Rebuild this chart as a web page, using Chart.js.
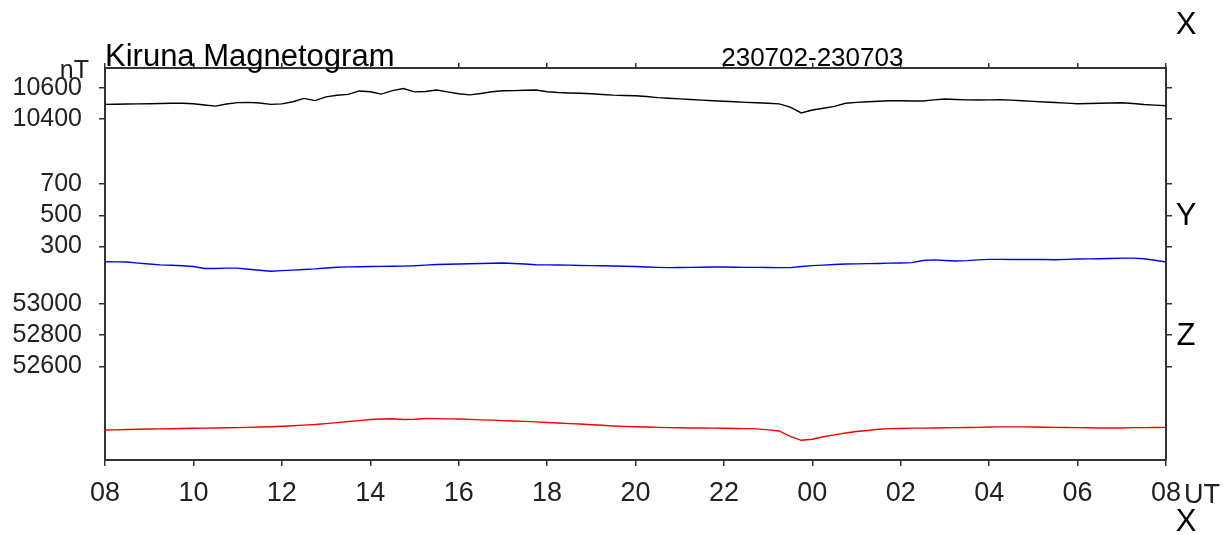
<!DOCTYPE html>
<html>
<head>
<meta charset="utf-8">
<script src="https://cdn.jsdelivr.net/npm/chart.js@4.4.1/dist/chart.umd.min.js"></script>
<style>
  html, body { margin: 0; padding: 0; background: #fff; }
  #wrap { width: 1223px; height: 535px; position: relative; }
</style>
</head>
<body>
<div id="wrap"><canvas id="c"></canvas></div>
<script>
// ---- DATA ----
const SAMPLE_STEP_H = 0.25;                 // sampling interval (hours since 08 UT)
const timeTickLabels = ['08','10','12','14','16','18','20','22','00','02','04','06','08'];
const xTickValues = [10600, 10400];
const yTickValues = [700, 500, 300];
const zTickValues = [53000, 52800, 52600];
const componentLabels = ['X', 'Y', 'Z'];
const titleText = 'Kiruna Magnetogram';
const dateText = '230702-230703';

const xValues = [
  10494,10495,10496,10497,10498,10500,10501,10501,10498,10490,
  10483,10496,10505,10507,10503,10494,10497,10511,10532,10518,
  10542,10552,10558,10580,10575,10560,10582,10595,10574,10576,
  10586,10574,10562,10555,10564,10575,10581,10582,10584,10586,
  10575,10570,10567,10565,10562,10557,10553,10551,10549,10544,
  10537,10533,10529,10525,10521,10517,10514,10511,10507,10504,
  10501,10497,10477,10439,10458,10469,10481,10501,10507,10511,
  10514,10517,10517,10516,10516,10523,10528,10525,10523,10522,
  10523,10524,10521,10517,10513,10509,10506,10502,10498,10500,
  10501,10503,10504,10500,10493,10489,10485
];
const yValues = [
  203,202,201,194,188,183,180,177,172,160,
  160,162,162,155,148,142,146,149,153,157,
  163,168,170,171,172,173,174,175,177,181,
  185,187,188,190,192,193,195,192,188,184,
  183,182,181,179,178,177,176,174,172,169,
  167,165,166,167,168,169,169,168,167,167,
  166,165,165,172,178,181,185,188,189,191,
  192,194,195,197,211,215,211,208,210,215,
  218,218,217,217,217,217,216,218,220,221,
  222,224,226,226,222,212,201
];
const zValues = [
  52192,52193,52195,52197,52198,52199,52200,52202,52203,52204,
  52205,52206,52207,52209,52211,52213,52216,52219,52223,52227,
  52233,52239,52246,52252,52259,52262,52264,52259,52261,52266,
  52265,52263,52262,52260,52257,52255,52252,52250,52247,52244,
  52240,52237,52233,52230,52226,52222,52218,52215,52213,52211,
  52209,52207,52206,52205,52205,52204,52203,52202,52201,52199,
  52193,52186,52151,52126,52133,52149,52161,52173,52182,52189,
  52197,52201,52202,52204,52204,52205,52206,52207,52208,52209,
  52211,52212,52212,52212,52211,52210,52209,52208,52207,52206,
  52205,52205,52205,52207,52207,52208,52209
];

// ---- PRESENTATION (stacked panels share one nT-per-pixel scale) ----
const offsets = { X: 8218, Y: -1066, Z: 52000 };
const RANGE = 2508.8;
const FONT = '"Liberation Sans", Arial, sans-serif';

function toPoints(vals, off) {
  return vals.map((v, i) => ({ x: i * SAMPLE_STEP_H, y: v - off }));
}
const tickDefs = [
  ...xTickValues.map(v => ({ value: v - offsets.X, label: String(v) })),
  ...yTickValues.map(v => ({ value: v - offsets.Y, label: String(v) })),
  ...zTickValues.map(v => ({ value: v - offsets.Z, label: String(v) }))
];
function labelFor(val) {
  const t = tickDefs.find(d => Math.abs(d.value - val) < 1e-6);
  return t ? t.label : '';
}

const textPlugin = {
  id: 'texts',
  afterDraw(chart) {
    const ctx = chart.ctx;
    const ca = chart.chartArea;
    const xs = chart.scales.x;
    ctx.save();
    ctx.fillStyle = '#000';
    ctx.textBaseline = 'alphabetic';
    ctx.font = '31px ' + FONT;
    ctx.textAlign = 'left';
    ctx.fillText(titleText, ca.left, 66);
    ctx.font = '26px ' + FONT;
    ctx.textAlign = 'center';
    ctx.fillText(dateText, xs.getPixelForValue(16), 66);
    ctx.fillStyle = '#222';
    ctx.textAlign = 'right';
    ctx.font = '25px ' + FONT;
    ctx.fillText('nT', 89, 78);
    ctx.textAlign = 'left';
    ctx.font = '27px ' + FONT;
    ctx.fillText('UT', 1184, 503);
    ctx.fillStyle = '#000';
    ctx.font = '31px ' + FONT;
    ctx.textAlign = 'center';
    ctx.textBaseline = 'middle';
    const ys = chart.scales.y;
    ctx.fillText(componentLabels[0], 1186, 25);
    ctx.fillText(componentLabels[1], 1186, ys.getPixelForValue(yTickValues[1] - offsets.Y) + 1);
    ctx.fillText(componentLabels[2], 1186, ys.getPixelForValue(zTickValues[1] - offsets.Z) + 1);
    ctx.fillText(componentLabels[0], 1186, 522);
    ctx.restore();
  }
};

const axisColor = '#333';
const setTicks = scale => { scale.ticks = tickDefs.map(d => ({ value: d.value })); };

new Chart(document.getElementById('c'), {
  type: 'line',
  data: {
    datasets: [
      { label: 'X', data: toPoints(xValues, offsets.X), borderColor: '#000000', borderWidth: 1.4, pointRadius: 0, tension: 0 },
      { label: 'Y', data: toPoints(yValues, offsets.Y), borderColor: '#0000ff', borderWidth: 1.4, pointRadius: 0, tension: 0 },
      { label: 'Z', data: toPoints(zValues, offsets.Z), borderColor: '#ff0000', borderWidth: 1.4, pointRadius: 0, tension: 0 }
    ]
  },
  options: {
    responsive: true,
    maintainAspectRatio: false,
    animation: false,
    layout: { padding: 0 },
    plugins: { legend: { display: false }, tooltip: { enabled: false }, title: { display: false } },
    scales: {
      x: {
        type: 'linear', position: 'bottom', min: 0, max: 24,
        afterBuildTicks: s => { s.ticks = timeTickLabels.map((_, i) => ({ value: i * 2 })); },
        ticks: {
          autoSkip: false, maxRotation: 0, padding: 11, color: '#222',
          font: { family: FONT, size: 27 },
          callback: v => timeTickLabels[Math.round(v / 2)]
        },
        grid: { drawOnChartArea: false, drawTicks: true, tickLength: 6, color: axisColor, lineWidth: 1.5 },
        border: { display: true, color: axisColor, width: 2 },
        afterFit: s => { s.height = 75; }
      },
      x2: {
        type: 'linear', position: 'top', min: 0, max: 24,
        afterBuildTicks: s => { s.ticks = timeTickLabels.map((_, i) => ({ value: i * 2 })); },
        ticks: { display: false },
        grid: { drawOnChartArea: false, drawTicks: true, tickLength: 5, color: axisColor, lineWidth: 1.5 },
        border: { display: true, color: axisColor, width: 2 },
        afterFit: s => { s.height = 68; }
      },
      y: {
        type: 'linear', position: 'left', min: 0, max: RANGE,
        afterBuildTicks: setTicks,
        ticks: {
          autoSkip: false, padding: 17, color: '#222',
          font: { family: FONT, size: 25 },
          callback: v => labelFor(v)
        },
        grid: { drawOnChartArea: false, drawTicks: true, tickLength: 6, color: axisColor, lineWidth: 1.5 },
        border: { display: true, color: axisColor, width: 2 },
        afterFit: s => { s.width = 105; }
      },
      y2: {
        type: 'linear', position: 'right', min: 0, max: RANGE,
        afterBuildTicks: setTicks,
        ticks: { display: false },
        grid: { drawOnChartArea: false, drawTicks: true, tickLength: 6, color: axisColor, lineWidth: 1.5 },
        border: { display: true, color: axisColor, width: 2 },
        afterFit: s => { s.width = 57; }
      }
    }
  },
  plugins: [textPlugin]
});
</script>
</body>
</html>
